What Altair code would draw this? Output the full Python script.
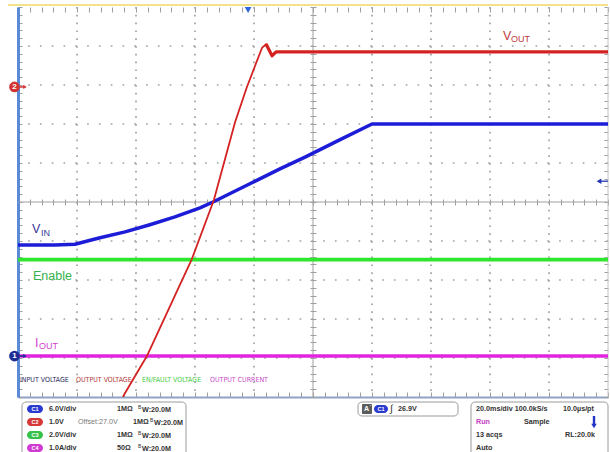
import altair as alt
import pandas as pd

# ---- channel / timebase settings (status panel) ----
C1_VDIV = 6.0      # V/div, input voltage
C2_VDIV = 1.0      # V/div, output voltage
C2_OFFSET = 27.0   # V
C3_VDIV = 2.0      # V/div, EN/FAULT
C4_ADIV = 1.0      # A/div, output current
MS_PER_DIV = 20.0
TRIG_LEVEL = 26.9  # V on C1
TRIG_TIME = 78.0   # ms from the left edge of the screen

REF_C1 = -3.95     # marker "1" (C1, C3, C4), divisions from centre
REF_C2 = 2.95      # marker "2" (C2 offset level)

# ---- captured waveforms (time in ms from left edge of the screen) ----
vin_t = [0, 12.5, 19.3, 27.8, 36.3, 44.7, 53.2, 61.7, 66.1, 78.6, 88.8, 97.3, 109.2, 120.0, 200]
vin_v = [17.1, 17.1, 17.2, 18.2, 19.1, 20.2, 21.4, 22.8, 23.7, 26.5, 28.8, 30.6, 33.3, 35.7, 35.7]

vout_t = [34.9, 35.9, 43.7, 59.0, 66.4, 73.6, 77.6, 82.7, 84.1, 86.1, 87.5, 200]
vout_v = [18.9, 19.1, 20.1, 22.6, 24.1, 26.1, 27.0, 28.0, 28.1, 27.8, 27.9, 27.9]

en_t = [0, 200]
en_v = [4.95, 4.95]

iout_t = [0, 200]
iout_a = [0.0, 0.0]

# ---- text ----
trace_labels = ["V", "OUT", "V", "IN", "Enable", "I", "OUT"]
strip_labels = ["INPUT VOLTAGE", "OUTPUT VOLTAGE", "EN/FAULT VOLTAGE", "OUTPUT CURRENT"]
ch_names = ["C1", "C2", "C3", "C4"]
ch_scale_txt = ["6.0V/div", "1.0V", "2.0V/div", "1.0A/div"]
ch_imped = ["1MΩ", "1MΩ", "1MΩ", "50Ω"]
ch_bw = ["W:20.0M"] * 4
acq_txt = ["20.0ms/div 100.0kS/s", "10.0µs/pt", "Run", "Sample", "13 acqs", "RL:20.0k", "Auto"]

# ---- colours ----
BLUE, RED, GREEN, MAGENTA = "#1d1dd8", "#d42222", "#2fe62f", "#e024e0"
CH_FILL = ["#2b3bd0", "#d63838", "#36c24a", "#d238d2"]
TICK, GRID = "#9e9e9e", "#a2a2a2"
SANS = "Liberation Sans"
NARROW = "Liberation Sans Narrow, DejaVu Sans Condensed, sans-serif"

# ---- screen geometry ----
W, H = 590, 390            # graticule in px
X0, Y0 = 18, 7             # graticule origin on the page
DIV_W, DIV_H = W / 10, H / 10

XS = alt.Scale(domain=[0, 10 * MS_PER_DIV], nice=False, zero=False)
YS = alt.Scale(domain=[-5, 5], nice=False, zero=False)


def t_of(px):
    return (px - X0) / DIV_W * MS_PER_DIV


def d_of(py):
    return 5 - (py - Y0) / DIV_H


def trace_df(t, div):
    return pd.DataFrame({"t": t, "d": div})


vin = trace_df(vin_t, [REF_C1 + v / C1_VDIV for v in vin_v])
vout = trace_df(vout_t, [REF_C2 + (v - C2_OFFSET) / C2_VDIV for v in vout_v])
enable = trace_df(en_t, [REF_C1 + v / C3_VDIV for v in en_v])
iout = trace_df(iout_t, [REF_C1 + a / C4_ADIV for a in iout_a])

minor_x = [round(i * MS_PER_DIV / 5, 3) for i in range(51)]
minor_y = [round(-5 + 0.2 * i, 3) for i in range(51)]
major_x = [round(i * MS_PER_DIV, 3) for i in range(1, 10) if i != 5]
major_y = [i for i in range(-4, 5) if i != 0]


def tick_axis(orient, values, offset, size):
    return alt.Axis(orient=orient, values=values, offset=offset, tickSize=size,
                    tickColor=TICK, tickWidth=1, domain=False, labels=False,
                    grid=False, title=None)


def frame_axis(orient, dom_color, dom_width):
    return alt.Axis(orient=orient, values=[], ticks=False, labels=False, grid=False,
                    domain=True, domainColor=dom_color, domainWidth=dom_width,
                    title=None)


def trace(df, color, width, xaxis, yaxis, clip=False):
    return alt.Chart(df).mark_line(color=color, strokeWidth=width, clip=clip,
                                   strokeJoin="round").encode(
        x=alt.X("t:Q", scale=XS, axis=xaxis),
        y=alt.Y("d:Q", scale=YS, axis=yaxis),
    )


def enc_xy():
    return dict(x=alt.X("t:Q", scale=XS, axis=None), y=alt.Y("d:Q", scale=YS, axis=None))


def text_layer(rows, bold=False, font=SANS, baseline="middle", align="left"):
    df = pd.DataFrame(rows, columns=["text", "t", "d", "color", "fs"])
    return alt.Chart(df).mark_text(align=align, baseline=baseline, font=font,
                                   fontWeight="bold" if bold else "normal").encode(
        text="text:N",
        color=alt.Color("color:N", scale=None),
        size=alt.Size("fs:Q", scale=None),
        **enc_xy(),
    )


def at(text, px, py, color, fs):
    return [text, t_of(px), d_of(py), color, fs]


# ---- graticule: dotted division lines, solid centre cross ----
DOT = 1.7
grid_v = alt.Chart(pd.DataFrame({"t": major_x})).mark_rule(
    color=GRID, strokeWidth=DOT, strokeDash=[DOT, DIV_H / 5 - DOT]).encode(
    x=alt.X("t:Q", scale=XS, axis=None))
grid_h = alt.Chart(pd.DataFrame({"d": major_y})).mark_rule(
    color=GRID, strokeWidth=DOT, strokeDash=[DOT, DIV_W / 5 - DOT]).encode(
    y=alt.Y("d:Q", scale=YS, axis=None))
centre_v = alt.Chart(pd.DataFrame({"t": [5 * MS_PER_DIV]})).mark_rule(
    color="#a0a0a0", strokeWidth=1).encode(x=alt.X("t:Q", scale=XS, axis=None))
centre_h = alt.Chart(pd.DataFrame({"d": [0]})).mark_rule(
    color="#a0a0a0", strokeWidth=1).encode(y=alt.Y("d:Q", scale=YS, axis=None))
top_bar = alt.Chart(pd.DataFrame({"t": [t_of(8)], "t2": [t_of(608)], "d": [d_of(5)]})).mark_rule(
    color="#f3e28a", strokeWidth=2, clip=False).encode(
    x=alt.X("t:Q", scale=XS, axis=None), x2="t2:Q", y=alt.Y("d:Q", scale=YS, axis=None))
right_edge = alt.Chart(pd.DataFrame({"t": [10 * MS_PER_DIV]})).mark_rule(
    color="#c4c4c4", strokeWidth=1).encode(x=alt.X("t:Q", scale=XS, axis=None))

# ---- traces (each carries one set of graticule ticks) ----
l_iout = trace(iout, MAGENTA, 3.4,
               tick_axis("bottom", minor_x, -5, 5), tick_axis("right", minor_y, -4, 4))
l_en = trace(enable, GREEN, 3.8,
             tick_axis("top", minor_x, -5, 5), tick_axis("left", minor_y, -4, 4))
l_vin = trace(vin, BLUE, 3.5,
              tick_axis("bottom", minor_x, -(H / 2 + 3), 6),
              tick_axis("left", minor_y, -(W / 2 + 3), 6))
l_vout = trace(vout, RED, 1.8,
               frame_axis("bottom", "#8fa3c6", 2),
               frame_axis("left", "#5b8bd6", 3),
               clip=True)
# settled part of the output is drawn with the scope's usual trace weight
l_vout_flat = alt.Chart(vout).transform_filter(alt.datum.t >= 84).mark_line(
    color=RED, strokeWidth=3.2, strokeJoin="round").encode(**enc_xy())

# ---- trace labels ----
red_t, blue_t, green_t, mag_t = "#bf3b3b", "#39399c", "#34b24c", "#d23fd2"
lbl = text_layer([
    at(trace_labels[0], 503, 40, red_t, 12.5),
    at(trace_labels[1], 511, 42, red_t, 9),
    at(trace_labels[2], 32, 233, blue_t, 12.5),
    at(trace_labels[3], 41, 236, blue_t, 9),
    at(trace_labels[4], 33, 280, green_t, 12.5),
    at(trace_labels[5], 35, 347, mag_t, 12.5),
    at(trace_labels[6], 39, 349, mag_t, 9),
], baseline="alphabetic")

strip = text_layer([
    at(strip_labels[0], 20, 382, "#2b2b60", 7),
    at(strip_labels[1], 76, 382, "#b33a3a", 7),
    at(strip_labels[2], 142, 382, "#48cc48", 7),
    at(strip_labels[3], 210, 382, "#c84cc8", 7),
], font=NARROW, baseline="alphabetic")

# ---- reference markers ----
ref_df = pd.DataFrame({"t": [t_of(14.5), t_of(14.5)], "d": [REF_C2, REF_C1],
                       "color": ["#d23434", "#1e2c96"], "text": ["2", "1"]})
ref_dots = alt.Chart(ref_df).mark_circle(size=115, opacity=1, clip=False).encode(
    color=alt.Color("color:N", scale=None), **enc_xy())
ref_nums = alt.Chart(ref_df).mark_text(fontSize=8, fontWeight="bold", font=SANS,
                                       color="white", baseline="middle").encode(
    text="text:N", **enc_xy())
ref_arrow_df = pd.DataFrame({"t": [t_of(20)] * 2, "t2": [t_of(25)] * 2,
                             "d": [REF_C2, REF_C1], "color": ["#d23434", "#1e2c96"]})
ref_shaft = alt.Chart(ref_arrow_df).mark_rule(strokeWidth=1.5).encode(
    x=alt.X("t:Q", scale=XS, axis=None), x2="t2:Q",
    y=alt.Y("d:Q", scale=YS, axis=None), color=alt.Color("color:N", scale=None))
ref_head = alt.Chart(ref_arrow_df).mark_point(shape="triangle-right", filled=True,
                                              size=18, opacity=1).encode(
    x=alt.X("t2:Q", scale=XS, axis=None), y=alt.Y("d:Q", scale=YS, axis=None),
    color=alt.Color("color:N", scale=None))

# trigger position (top) and trigger level (right edge)
trig_pos = alt.Chart(pd.DataFrame({"t": [TRIG_TIME], "d": [d_of(10)]})).mark_point(
    shape="triangle-down", filled=True, size=45, color="#2a64d6", opacity=1).encode(**enc_xy())
trig_lvl_d = REF_C1 + TRIG_LEVEL / C1_VDIV
trig_lvl = pd.DataFrame({"t": [t_of(599)], "t2": [t_of(608)], "d": [trig_lvl_d]})
trig_shaft = alt.Chart(trig_lvl).mark_rule(color="#2436b4", strokeWidth=1.3).encode(
    x=alt.X("t:Q", scale=XS, axis=None), x2="t2:Q", y=alt.Y("d:Q", scale=YS, axis=None))
trig_head = alt.Chart(trig_lvl).mark_point(shape="triangle-left", filled=True, size=30,
                                           color="#2436b4", opacity=1).encode(**enc_xy())

# ---- status panel ----
ROWS = [409, 422, 435, 448]
box_df = pd.DataFrame({
    "t": [t_of(22), t_of(358), t_of(471)], "t2": [t_of(186), t_of(458), t_of(608)],
    "d": [d_of(402)] * 3, "d2": [d_of(470), d_of(416), d_of(470)],
})
boxes = alt.Chart(box_df).mark_rect(fill="white", stroke="#9a9a9a", strokeWidth=1,
                                    cornerRadius=4, clip=False).encode(
    x=alt.X("t:Q", scale=XS, axis=None), x2="t2:Q",
    y=alt.Y("d:Q", scale=YS, axis=None), y2="d2:Q")

pill_rows = [(27, 43, ROWS[i], CH_FILL[i], ch_names[i]) for i in range(4)]
pill_rows.append((374, 388, ROWS[0], CH_FILL[0], ch_names[0]))
pill_df = pd.DataFrame({
    "t": [t_of(p[0]) for p in pill_rows], "t2": [t_of(p[1]) for p in pill_rows],
    "d": [d_of(p[2] - 4) for p in pill_rows], "d2": [d_of(p[2] + 4) for p in pill_rows],
    "color": [p[3] for p in pill_rows], "text": [p[4] for p in pill_rows],
    "tm": [t_of((p[0] + p[1]) / 2) for p in pill_rows], "dm": [d_of(p[2]) for p in pill_rows],
})
pills = alt.Chart(pill_df).mark_rect(cornerRadius=4, clip=False).encode(
    x=alt.X("t:Q", scale=XS, axis=None), x2="t2:Q",
    y=alt.Y("d:Q", scale=YS, axis=None), y2="d2:Q",
    color=alt.Color("color:N", scale=None))
pill_txt = alt.Chart(pill_df).mark_text(fontSize=5.5, fontWeight="bold", font=SANS,
                                        color="white", baseline="middle").encode(
    x=alt.X("tm:Q", scale=XS, axis=None), y=alt.Y("dm:Q", scale=YS, axis=None),
    text="text:N")

icon_df = pd.DataFrame({"t": [t_of(362)], "t2": [t_of(372)], "d": [d_of(404)], "d2": [d_of(414)]})
icon = alt.Chart(icon_df).mark_rect(fill="#5c5c5c", cornerRadius=1, clip=False).encode(
    x=alt.X("t:Q", scale=XS, axis=None), x2="t2:Q",
    y=alt.Y("d:Q", scale=YS, axis=None), y2="d2:Q")

DARK = "#333333"
imp_x = [117, 133, 117, 117]
bw_x = [138, 150, 138, 138]
bold_rows = []
for i in range(4):
    bold_rows.append(at(ch_scale_txt[i], 49, ROWS[i], DARK, 7.2))
    bold_rows.append(at(ch_imped[i], imp_x[i], ROWS[i], DARK, 7.2))
    bold_rows.append(at(ch_bw[i], bw_x[i] + 4, ROWS[i] + 0.5, DARK, 7.2))
bold_rows += [
    at("A", 364, ROWS[0], "white", 7),
    at(f"{TRIG_LEVEL:.1f}V", 398, ROWS[0], DARK, 7.2),
    at(acq_txt[0], 476, ROWS[0], DARK, 7.2),
    at(acq_txt[1], 563, ROWS[0], DARK, 7.2),
    at(acq_txt[2], 476, ROWS[1], "#c23cc2", 7.2),
    at(acq_txt[3], 524, ROWS[1], DARK, 7.2),
    at(acq_txt[4], 476, ROWS[2], DARK, 7.2),
    at(acq_txt[5], 565, ROWS[2], DARK, 7.2),
    at(acq_txt[6], 476, ROWS[3], DARK, 7.2),
]
panel_bold = text_layer(bold_rows, bold=True)
panel_plain = text_layer(
    [at(f"Offset:{C2_OFFSET:.1f}V", 78, ROWS[1], "#7a7a7a", 7.2)]
    + [at("B", bw_x[i], ROWS[i] - 2, DARK, 5) for i in range(4)]
    + [at("'", 370, ROWS[0] - 2, "white", 6), at("∫", 390, ROWS[0], DARK, 10)]
)

run_arrow = pd.DataFrame({"t": [t_of(594)], "d": [d_of(416)], "d2": [d_of(424)], "dh": [d_of(426)]})
arrow_shaft = alt.Chart(run_arrow).mark_rule(color="#2234c8", strokeWidth=2.4).encode(
    x=alt.X("t:Q", scale=XS, axis=None), y=alt.Y("d:Q", scale=YS, axis=None), y2="d2:Q")
arrow_head = alt.Chart(run_arrow).mark_point(shape="triangle-down", filled=True, size=30,
                                             color="#2234c8", opacity=1).encode(
    x=alt.X("t:Q", scale=XS, axis=None), y=alt.Y("dh:Q", scale=YS, axis=None))

chart = alt.layer(
    grid_v, grid_h, centre_v, centre_h, right_edge, top_bar,
    l_iout, l_en, l_vin, l_vout, l_vout_flat,
    lbl, strip,
    ref_shaft, ref_head, ref_dots, ref_nums,
    trig_pos, trig_shaft, trig_head,
    boxes, pills, pill_txt, icon, panel_bold, panel_plain, arrow_shaft, arrow_head,
).resolve_axis(x="independent", y="independent").properties(
    width=W, height=H,
    padding={"left": X0, "top": Y0, "right": 610 - X0 - W, "bottom": 452 - Y0 - H},
    autosize=alt.AutoSizeParams(type="none"),
    background="white",
).configure_view(strokeWidth=0)

chart.save("out.html", embed_options={"renderer": "svg", "actions": False})
